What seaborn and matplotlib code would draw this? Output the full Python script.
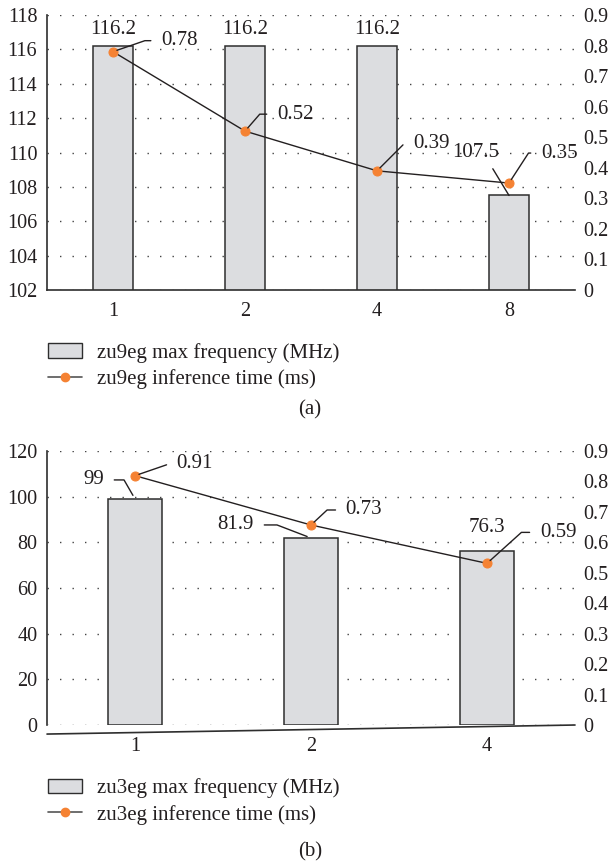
import numpy as np
import matplotlib
matplotlib.use("Agg")
import matplotlib.pyplot as plt
import seaborn as sns
from matplotlib.patches import Patch
from matplotlib.lines import Line2D

# panel (a): zu9eg
cats_a = ["1", "2", "4", "8"]
freq_a = [116.2, 116.2, 116.2, 107.5]
time_a = [0.78, 0.52, 0.39, 0.35]
left_ticks_a = [102, 104, 106, 108, 110, 112, 114, 116, 118]
right_ticks_a = [0, 0.1, 0.2, 0.3, 0.4, 0.5, 0.6, 0.7, 0.8, 0.9]
legend_a = ["zu9eg max frequency (MHz)", "zu9eg inference time (ms)"]

# panel (b): zu3eg
cats_b = ["1", "2", "4"]
freq_b = [99, 81.9, 76.3]
time_b = [0.91, 0.73, 0.59]
left_ticks_b = [0, 20, 40, 60, 80, 100, 120]
right_labels_b = ["0", "0.1", "0.2", "0.3", "0.4", "0.5", "0.6", "0.7", "0.8", "0.9"]
legend_b = ["zu3eg max frequency (MHz)", "zu3eg inference time (ms)"]

BAR = "#dcdde0"
EDGE = "#2e2e2e"
ORANGE = "#f58233"
TXT = "#231f20"

sns.set_style("white")
plt.rcParams["font.family"] = ["Liberation Serif", "DejaVu Serif"]
plt.rcParams["text.color"] = TXT
plt.rcParams["xtick.color"] = TXT
plt.rcParams["ytick.color"] = TXT

FS = 15      # annotations, legend
TFS = 14.5   # tick labels


def fmt(v):
    return "%g" % v


# label with a short horizontal stub and a slanted leader to the point
def lead(ax, text, xy, off, ha, angle, relx):
    ax.annotate(text, xy=xy, xytext=off, textcoords="offset points",
                ha=ha, va="center", fontsize=FS,
                arrowprops=dict(arrowstyle="-", color=TXT, lw=1,
                                shrinkA=5, shrinkB=3, relpos=(relx, 0.5),
                                connectionstyle="angle,angleA=0,angleB=%g,rad=0" % angle))


def base_panel(ax, cats, freq, times):
    sns.barplot(x=cats, y=freq, ax=ax, width=0.31, color=BAR, saturation=1,
                edgecolor=EDGE, linewidth=1.1, zorder=2)
    ax.set_xlim(-0.5, len(cats) - 0.5)
    ax.yaxis.grid(True, linestyle=(0, (1, 8)), color="#444444", lw=1)
    ax.xaxis.grid(False)
    ax.set_axisbelow(True)
    for s in ["top", "right"]:
        ax.spines[s].set_visible(False)
    for s in ["left", "bottom"]:
        ax.spines[s].set_color(EDGE)
        ax.spines[s].set_linewidth(1.2)
    ax.tick_params(axis="y", length=0, pad=7, labelsize=TFS)
    ax.tick_params(axis="x", length=0, pad=8.6, labelsize=TFS)

    ax2 = ax.twinx()
    pos = np.arange(len(cats))
    sns.lineplot(x=pos, y=times, ax=ax2, color=TXT, lw=1, marker="o",
                 markersize=6.5, markerfacecolor=ORANGE, markeredgecolor=ORANGE)
    for s in ["top", "right", "left", "bottom"]:
        ax2.spines[s].set_visible(False)
    ax2.tick_params(axis="y", length=0, pad=6, labelsize=TFS)
    ax2.set_xlim(-0.5, len(cats) - 0.5)
    return ax2


def add_legend(fig, labels, y):
    handles = [Patch(facecolor=BAR, edgecolor=EDGE, lw=1),
               Line2D([0], [0], color="#555555", lw=1.2, marker="o", markersize=6,
                      markerfacecolor=ORANGE, markeredgecolor=ORANGE)]
    fig.legend(handles, labels, loc="upper left", bbox_to_anchor=(0.079, y),
               frameon=False, fontsize=FS, borderpad=0, borderaxespad=0,
               handlelength=1.65, handletextpad=0.7, labelspacing=0.3)


fig = plt.figure(figsize=(6.09, 8.66), dpi=100)

# ---- panel (a)
ax = fig.add_axes([0.0772, 0.6651, 0.8670, 0.3176])
ax2 = base_panel(ax, cats_a, freq_a, time_a)
ax.set_ylim(102, 118)
ax.set_yticks(left_ticks_a)
ax2.set_ylim(0, 0.9)
ax2.set_yticks(right_ticks_a)
ax2.set_yticklabels([fmt(v) for v in right_ticks_a])

for i in range(3):
    ax.annotate(fmt(freq_a[i]), xy=(i, freq_a[i]), xytext=(0, 11.5),
                textcoords="offset points", ha="center", va="center", fontsize=FS)
ax.annotate(fmt(freq_a[3]), xy=(3, freq_a[3]), xytext=(-23.8, 31),
            textcoords="offset points", ha="center", va="center", fontsize=FS,
            arrowprops=dict(arrowstyle="-", color=TXT, lw=1, shrinkA=3, shrinkB=0,
                            relpos=(0.77, 0)))
offs_a = [(34.6, 7.9), (23, 12.2), (26, 19.4), (23, 21.6)]
angs_a = [19, 49, 45, 57]
for i, v in enumerate(time_a):
    lead(ax2, fmt(v), (i, v), offs_a[i], "left", angs_a[i], 0)

add_legend(fig, legend_a, 0.604)
fig.text(0.509, 0.5266, "(a)", ha="center", va="center", fontsize=FS)

# ---- panel (b)
bx = fig.add_axes([0.0772, 0.1628, 0.8670, 0.3164])
bx2 = base_panel(bx, cats_b, freq_b, time_b)
bx.set_ylim(0, 120)
bx.set_yticks(left_ticks_b)
# the slanted baseline of the original
bx.spines["bottom"].set_visible(False)
bx.plot([0, 1], [-0.033, 0], transform=bx.transAxes, clip_on=False,
        color=EDGE, lw=1.2)
bx2.set_ylim(0, 1.0)
bx2.set_yticks(np.linspace(0, 1.0, len(right_labels_b)))
bx2.set_yticklabels(right_labels_b)

lead(bx, fmt(freq_b[0]), (0, freq_b[0]), (-22.3, 13.7), "right", 120, 1)
lead(bx, fmt(freq_b[1]), (1, freq_b[1]), (-41, 9.4), "right", 159, 1)
bx.annotate(fmt(freq_b[2]), xy=(2, freq_b[2]), xytext=(0, 16.6),
            textcoords="offset points", ha="center", va="center", fontsize=FS)
offs_b = [(30, 8.6), (25, 10.8), (38, 22.3)]
angs_b = [19, 43, 42]
for i, v in enumerate(time_b):
    lead(bx2, fmt(v), (i, v), offs_b[i], "left", angs_b[i], 0)

add_legend(fig, legend_b, 0.101)
fig.text(0.509, 0.0162, "(b)", ha="center", va="center", fontsize=FS)

fig.savefig("out.png", dpi=100)
